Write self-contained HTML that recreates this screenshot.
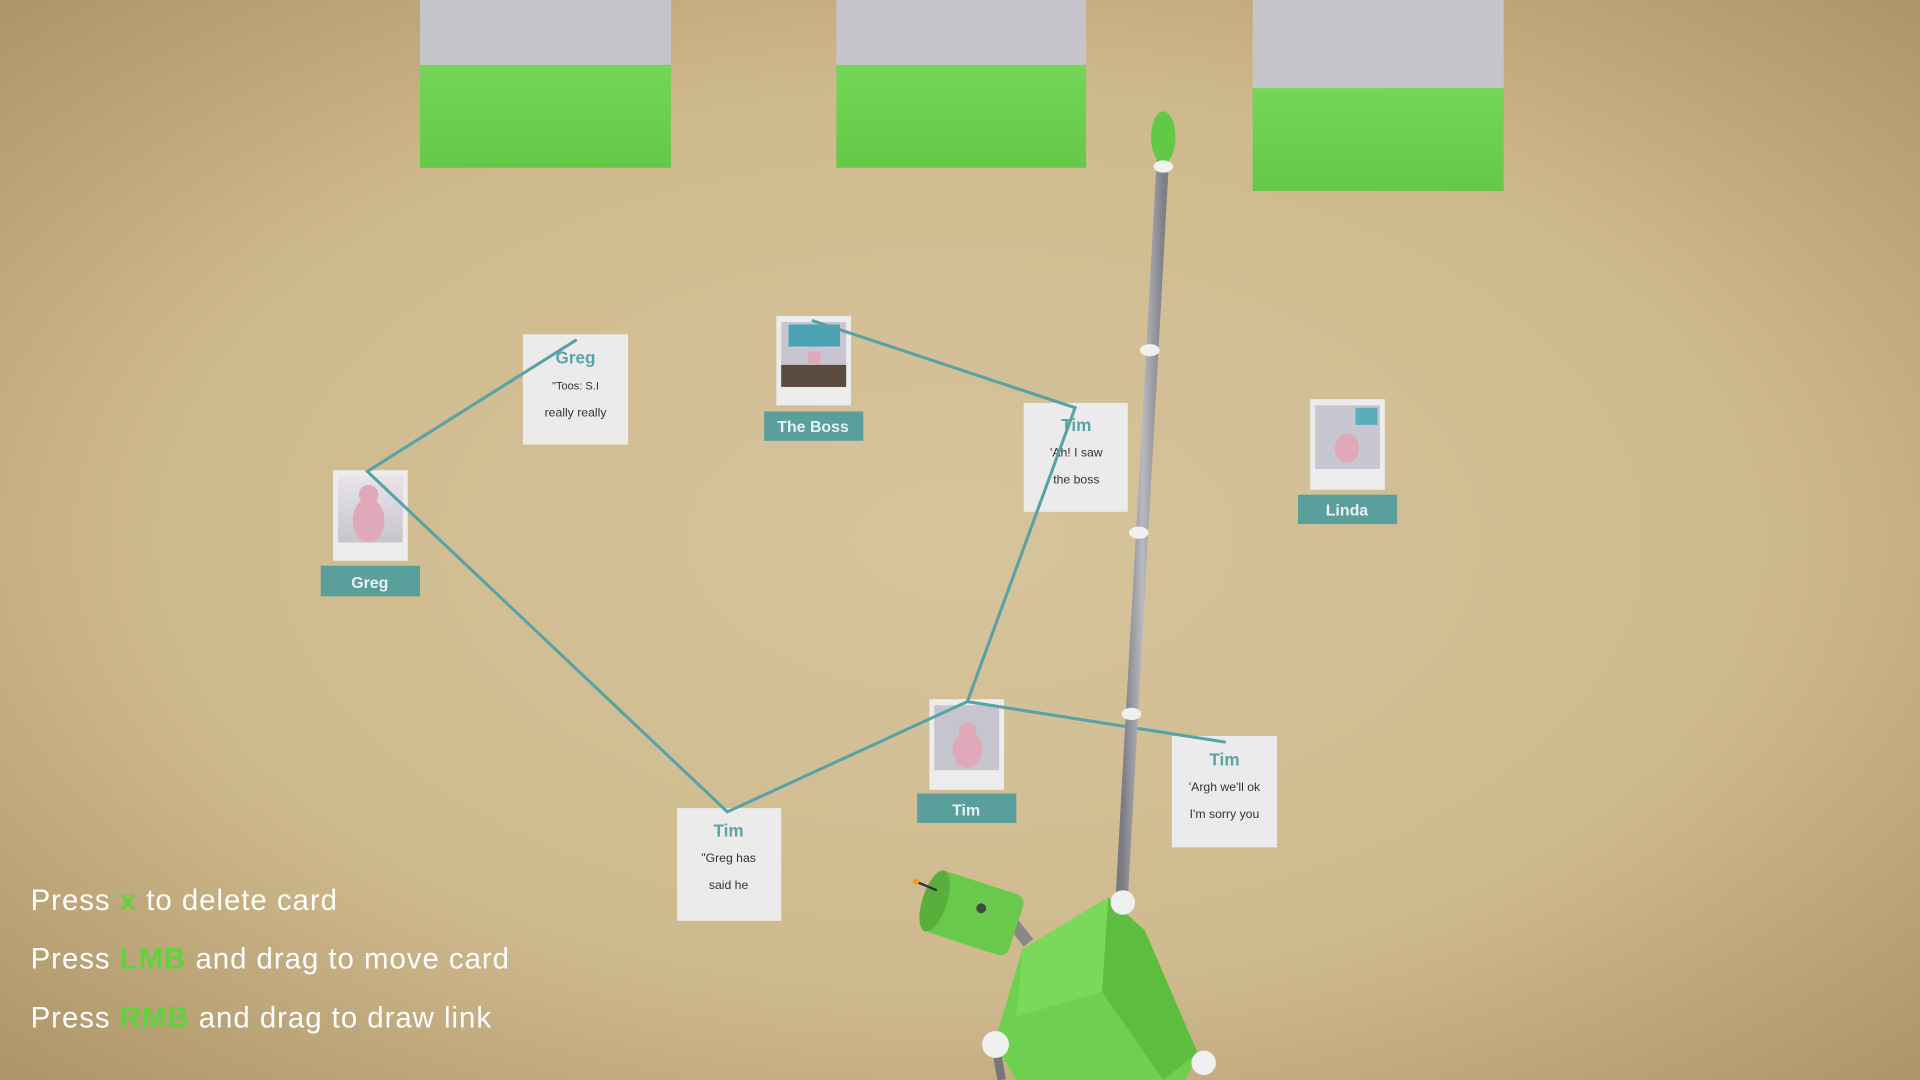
<!DOCTYPE html>
<html><head><meta charset="utf-8"><style>
html,body{margin:0;padding:0;width:1920px;height:1080px;overflow:hidden;background:#c8b58c}
svg{display:block}
text{font-family:"Liberation Sans",sans-serif}
</style></head><body>
<svg width="1920" height="1080" viewBox="0 0 1568 882" preserveAspectRatio="none" xmlns="http://www.w3.org/2000/svg">
<defs>
<radialGradient id="bg" cx="0.5" cy="0.5" r="0.75">
<stop offset="0" stop-color="#d6c49c"/>
<stop offset="0.55" stop-color="#cfba8e"/>
<stop offset="1" stop-color="#a88f62"/>
</radialGradient>
<linearGradient id="pole" x1="0" x2="1">
<stop offset="0" stop-color="#6e6e78"/><stop offset="0.5" stop-color="#d8d8de"/><stop offset="1" stop-color="#7a7a84"/>
</linearGradient>
<linearGradient id="gr" x1="0" y1="0" x2="0" y2="1"><stop offset="0" stop-color="#74d656"/><stop offset="1" stop-color="#66c748"/></linearGradient>
<linearGradient id="ph1" x1="0" y1="0" x2="0" y2="1"><stop offset="0" stop-color="#e8e4ea"/><stop offset="1" stop-color="#c8c4cc"/></linearGradient>
</defs>
<rect width="1568" height="882" fill="url(#bg)"/>
<!-- top panels -->
<rect x="343" y="0" width="205" height="53" fill="#c5c5c9"/><rect x="343" y="53" width="205" height="84" fill="url(#gr)"/>
<rect x="683" y="0" width="204" height="53" fill="#c5c5c9"/><rect x="683" y="53" width="204" height="84" fill="url(#gr)"/>
<rect x="1023" y="0" width="205" height="72" fill="#c5c5c9"/><rect x="1023" y="72" width="205" height="84" fill="url(#gr)"/>

<!-- cards -->
<g font-weight="bold" text-anchor="middle">
<rect x="427" y="273" width="86" height="90" fill="#ebebeb"/>
<text x="470" y="297" fill="#5aa3a6" font-size="14">Greg</text>
<text x="470" y="318" fill="#333" font-size="9" font-weight="normal">"Toos: S.I</text>
<text x="470" y="340" fill="#333" font-size="10" font-weight="normal">really really</text>

<rect x="272" y="384" width="61" height="74" fill="#ececec"/>
<rect x="276" y="389" width="53" height="54" fill="url(#ph1)"/>
<ellipse cx="301" cy="425" rx="13" ry="18" fill="#e0a8b8"/><circle cx="301" cy="404" r="8" fill="#e0a8b8"/>
<rect x="262" y="462" width="81" height="25" fill="#5a9f9c"/>
<text x="302" y="480" fill="#e8f2f2" font-size="13">Greg</text>

<rect x="634" y="258" width="61" height="73" fill="#ececec"/>
<rect x="638" y="263" width="53" height="53" fill="#c8c4d0"/>
<rect x="644" y="265" width="42" height="18" fill="#4aa3b3"/>
<rect x="638" y="298" width="53" height="18" fill="#5a4a40"/>
<rect x="660" y="287" width="10" height="10" fill="#e0a8b8"/>
<rect x="624" y="336" width="81" height="24" fill="#5a9f9c"/>
<text x="664" y="353" fill="#e8f2f2" font-size="13">The Boss</text>

<rect x="836" y="329" width="85" height="89" fill="#ebebeb"/>
<text x="879" y="352" fill="#5aa3a6" font-size="14">Tim</text>
<text x="879" y="373" fill="#333" font-size="10" font-weight="normal">'Ah! I saw</text>
<text x="879" y="395" fill="#333" font-size="10" font-weight="normal">the boss</text>

<rect x="1070" y="326" width="61" height="74" fill="#ececec"/>
<rect x="1074" y="331" width="53" height="52" fill="#c8c6d0"/>
<rect x="1107" y="333" width="18" height="14" fill="#5aaebb"/>
<ellipse cx="1100" cy="366" rx="10" ry="12" fill="#e0a8b8"/>
<rect x="1060" y="404" width="81" height="24" fill="#5a9f9c"/>
<text x="1100" y="421" fill="#e8f2f2" font-size="13">Linda</text>

<rect x="759" y="571" width="61" height="74" fill="#ececec"/>
<rect x="763" y="576" width="53" height="53" fill="#c6c4cc"/>
<ellipse cx="790" cy="612" rx="12" ry="15" fill="#e0a8b8"/><circle cx="790" cy="597" r="7" fill="#e0a8b8"/>
<rect x="749" y="648" width="81" height="24" fill="#5a9f9c"/>
<text x="789" y="666" fill="#e8f2f2" font-size="13">Tim</text>

<rect x="957" y="601" width="86" height="91" fill="#ebebeb"/>
<text x="1000" y="625" fill="#5aa3a6" font-size="14">Tim</text>
<text x="1000" y="646" fill="#333" font-size="10" font-weight="normal">'Argh we'll ok</text>
<text x="1000" y="668" fill="#333" font-size="10" font-weight="normal">I'm sorry you</text>

<rect x="553" y="660" width="85" height="92" fill="#ebebeb"/>
<text x="595" y="683" fill="#5aa3a6" font-size="14">Tim</text>
<text x="595" y="704" fill="#333" font-size="10" font-weight="normal">"Greg has</text>
<text x="595" y="726" fill="#333" font-size="10" font-weight="normal">said he</text>
</g>

<!-- links -->
<g stroke="#58a2a6" stroke-width="2.5" fill="none" stroke-linecap="round">
<polyline points="470,278 300,385 594,663 790,573 878,333 664,262"/>
<line x1="790" y1="573" x2="1000" y2="606"/>
</g>

<!-- pole -->
<line x1="950" y1="125" x2="916" y2="735" stroke="url(#pole)" stroke-width="10"/>
<line x1="950" y1="125" x2="916" y2="735" stroke="#8a8a92" stroke-width="10" stroke-opacity="0.4"/>
<ellipse cx="950" cy="112" rx="10" ry="21" fill="#62c947"/>
<ellipse cx="950" cy="136" rx="8" ry="5" fill="#f0f0f0"/>
<ellipse cx="939" cy="286" rx="8" ry="5" fill="#f0f0f0"/>
<ellipse cx="930" cy="435" rx="8" ry="5" fill="#f0f0f0"/>
<ellipse cx="924" cy="583" rx="8" ry="5" fill="#f0f0f0"/>

<!-- robot -->
<line x1="813" y1="853" x2="818" y2="882" stroke="#777" stroke-width="7"/>
<polygon points="835,775 905,733 935,760 978,860 968,882 830,882 812,852" fill="#6fd04f"/>
<polygon points="905,733 935,760 978,860 950,882 900,810" fill="#5cbd3f"/>
<polygon points="835,775 905,733 900,810 830,830" fill="#7ad85a"/>
<circle cx="917" cy="737" r="10" fill="#f0f0f0"/>
<line x1="820" y1="745" x2="840" y2="770" stroke="#888" stroke-width="10"/>
<g transform="rotate(18 795 745)">
<rect x="760" y="720" width="72" height="52" rx="8" fill="#69c94a"/>
<ellipse cx="762" cy="746" rx="10" ry="26" fill="#5aae3c"/>
<circle cx="800" cy="740" r="4" fill="#444"/>
</g>
<line x1="748" y1="720" x2="765" y2="727" stroke="#333" stroke-width="2"/>
<circle cx="748" cy="720" r="2.5" fill="#f0a020"/>
<circle cx="813" cy="853" r="11" fill="#f0f0f0"/>
<circle cx="983" cy="868" r="10" fill="#f0f0f0"/>

<!-- instructions -->
<g font-size="24" fill="#ffffff" letter-spacing="0.8">
<text x="25" y="743">Press <tspan fill="#5fd33c" font-weight="bold">x</tspan> to delete card</text>
<text x="25" y="791">Press <tspan fill="#5fd33c" font-weight="bold">LMB</tspan> and drag to move card</text>
<text x="25" y="839">Press <tspan fill="#5fd33c" font-weight="bold">RMB</tspan> and drag to draw link</text>
</g>
</svg>
</body></html>
